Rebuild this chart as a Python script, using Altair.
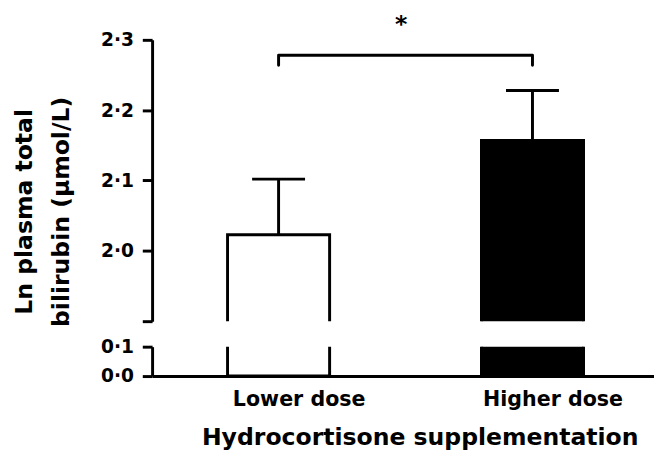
import altair as alt
import pandas as pd

# ---- data ----
groups = ["Lower dose", "Higher dose"]
means = [2.023, 2.157]
upper = [2.102, 2.228]
fills = ["white", "black"]

bracket_x = ["Lower dose", "Lower dose", "Higher dose", "Higher dose"]
bracket_y = [2.264, 2.278, 2.278, 2.264]
bracket_order = [0, 1, 2, 3]
star_label = ["*"]
star_y = [2.3216]

top_ticks = [1.9, 2.0, 2.1, 2.2, 2.3]
bottom_ticks = [0.0, 0.1]
top_domain = [1.9, 2.3]
bottom_domain = [0.0, 0.1]

# ---- layout ----
W = 512
H_TOP = 287
H_BOT = 30
FONT = "DejaVu Sans"

bars = pd.DataFrame({"group": groups, "mean": means, "upper": upper})
bracket = pd.DataFrame({"group": bracket_x, "y": bracket_y, "o": bracket_order})
star = pd.DataFrame({"group": [groups[0]], "y": star_y, "label": star_label})

xscale = alt.Scale(domain=groups, paddingInner=0.598, paddingOuter=0.2874, align=0.517)
label_expr = "datum.value < 1.95 && datum.value > 0.15 ? '' : replace(format(datum.value, '.1f'), '.', '·')"

common_axis = dict(
    grid=False, domainColor="black", domainWidth=3, tickColor="black", tickWidth=3,
    labelColor="black", titleColor="black", labelFont=FONT, titleFont=FONT,
    labelFontWeight="bold", titleFontWeight="bold",
)

top_y = alt.Y(
    "mean:Q",
    scale=alt.Scale(domain=top_domain, nice=False, zero=False),
    axis=alt.Axis(
        values=top_ticks, labelExpr=label_expr, tickSize=10, labelPadding=9,
        labelFontSize=19, labelFlush=False, title=["Ln plasma total", "bilirubin (μmol/L)"],
        titleFontSize=24, titleLineHeight=37, titlePadding=28, titleY=175,
        **common_axis,
    ),
)
x_top = alt.X("group:N", scale=xscale, axis=None)
fill_enc = alt.Fill("group:N", scale=alt.Scale(domain=groups, range=fills), legend=None)

top_bars = alt.Chart(bars).mark_bar(stroke="black", strokeWidth=3, clip=True).encode(
    x=x_top, y=top_y, y2=alt.datum(0), fill=fill_enc
)
err_rule = alt.Chart(bars).mark_rule(color="black", strokeWidth=3).encode(
    x=x_top, y="mean:Q", y2="upper:Q"
)
err_cap = alt.Chart(bars).mark_tick(
    color="black", thickness=3, size=54, orient="horizontal", opacity=1
).encode(x=x_top, y="upper:Q")
bracket_line = alt.Chart(bracket).mark_line(
    color="black", strokeWidth=3, strokeCap="round", strokeJoin="round"
).encode(x=x_top, y="y:Q", order="o:Q")
star_text = alt.Chart(star).mark_text(
    font=FONT, fontSize=24, fontWeight="bold", color="black", dx=125, baseline="middle"
).encode(x=x_top, y="y:Q", text="label:N")

top = alt.layer(top_bars, err_rule, err_cap, bracket_line, star_text).properties(
    width=W, height=H_TOP
)

bottom = alt.Chart(bars).mark_bar(stroke="black", strokeWidth=3, clip=True).encode(
    x=alt.X(
        "group:N", scale=xscale,
        axis=alt.Axis(
            labelAngle=0, ticks=False, tickSize=0, labelPadding=13, labelFontSize=21,
            labelOffset=21, title="Hydrocortisone supplementation", titleFontSize=24,
            titlePadding=17, titleX=273, **common_axis,
        ),
    ),
    y=alt.Y(
        "mean:Q",
        scale=alt.Scale(domain=bottom_domain, nice=False, zero=False),
        axis=alt.Axis(values=bottom_ticks, labelExpr=label_expr, tickSize=10,
                      labelPadding=9, labelFontSize=19, labelFlush=False, title=None,
                      **common_axis),
    ),
    y2=alt.datum(0),
    fill=fill_enc,
).properties(width=W, height=H_BOT)

chart = (
    alt.vconcat(top, bottom, spacing=26, bounds="flush")
    .properties(padding={"left": 5, "top": 0, "right": 0, "bottom": 0})
    .configure(font=FONT)
    .configure_view(stroke="transparent", strokeWidth=0)
)

chart.save("out.html", embed_options={"renderer": "svg", "actions": False})
